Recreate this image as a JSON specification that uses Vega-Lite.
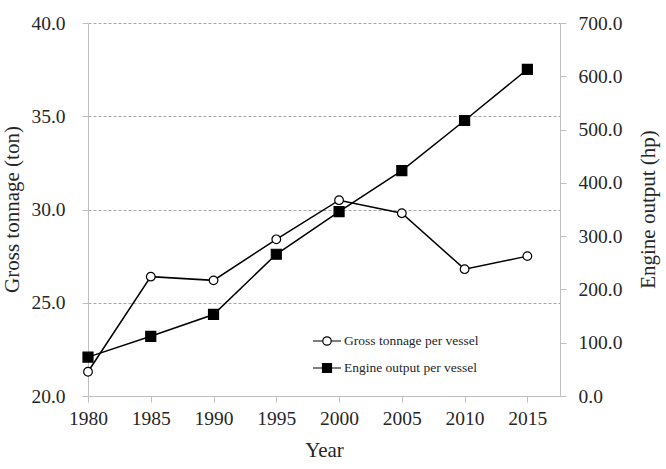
{
  "$schema": "https://vega.github.io/schema/vega-lite/v6.json",
  "autosize": "none",
  "width": 472,
  "height": 373,
  "padding": {"left": 88, "top": 23, "right": 106, "bottom": 73},
  "background": "white",
  "config": {
    "view": {"stroke": null},
    "font": "Liberation Serif",
    "axis": {
      "labelFont": "Liberation Serif",
      "titleFont": "Liberation Serif",
      "labelColor": "#262626",
      "titleColor": "#262626",
      "titleFontWeight": "normal",
      "domainColor": "#bfbfbf",
      "tickColor": "#bfbfbf",
      "tickSize": 6,
      "labelFontSize": 19.5,
      "titleFontSize": 21,
      "labelFlush": false
    },
    "legend": {
      "orient": "none",
      "legendX": 224,
      "legendY": 303,
      "symbolSize": 784,
      "rowPadding": 5,
      "labelOffset": 2,
      "labelFont": "Liberation Serif",
      "labelFontSize": 13.5,
      "labelColor": "#262626",
      "symbolStrokeColor": "black",
      "symbolStrokeWidth": 1.2,
      "symbolOpacity": 1
    }
  },
  "data": {
    "values": [
      {"year": 1980, "series": "Gross tonnage per vessel", "value": 21.3},
      {"year": 1985, "series": "Gross tonnage per vessel", "value": 26.4},
      {"year": 1990, "series": "Gross tonnage per vessel", "value": 26.2},
      {"year": 1995, "series": "Gross tonnage per vessel", "value": 28.4},
      {"year": 2000, "series": "Gross tonnage per vessel", "value": 30.5},
      {"year": 2005, "series": "Gross tonnage per vessel", "value": 29.8},
      {"year": 2010, "series": "Gross tonnage per vessel", "value": 26.8},
      {"year": 2015, "series": "Gross tonnage per vessel", "value": 27.5},
      {"year": 1980, "series": "Engine output per vessel", "value": 73},
      {"year": 1985, "series": "Engine output per vessel", "value": 112},
      {"year": 1990, "series": "Engine output per vessel", "value": 153},
      {"year": 1995, "series": "Engine output per vessel", "value": 266},
      {"year": 2000, "series": "Engine output per vessel", "value": 346},
      {"year": 2005, "series": "Engine output per vessel", "value": 423},
      {"year": 2010, "series": "Engine output per vessel", "value": 517},
      {"year": 2015, "series": "Engine output per vessel", "value": 613}
    ]
  },
  "encoding": {
    "x": {
      "field": "year",
      "type": "quantitative",
      "scale": {"domain": [1980, 2017.6], "nice": false, "zero": false},
      "axis": {
        "title": "Year",
        "values": [1980, 1985, 1990, 1995, 2000, 2005, 2010, 2015],
        "format": "d",
        "grid": false,
        "labelPadding": 7,
        "titlePadding": 12
      }
    }
  },
  "layer": [
    {
      "transform": [{"filter": "datum.series === 'Gross tonnage per vessel'"}],
      "encoding": {
        "y": {
          "field": "value",
          "type": "quantitative",
          "scale": {"domain": [20, 40], "nice": false, "zero": false},
          "axis": {
            "title": "Gross tonnage (ton)",
            "orient": "left",
            "values": [20, 25, 30, 35, 40],
            "format": ".1f",
            "grid": true,
            "gridColor": "#a6a6a6",
            "gridDash": [3, 2],
            "gridWidth": 1,
            "labelPadding": 17,
            "titleAngle": -90,
            "titleX": -76,
            "titleY": 186,
            "titleAlign": "center",
            "titleBaseline": "middle"
          }
        }
      },
      "layer": [
        {"mark": {"type": "line", "color": "black", "strokeWidth": 1.5}},
        {"mark": {"type": "point", "shape": "circle", "fill": "white", "stroke": "black", "strokeWidth": 1.2, "opacity": 1, "fillOpacity": 1, "size": 75}},
        {
          "mark": {"type": "point", "opacity": 0, "strokeWidth": 1.2},
          "encoding": {
            "shape": {"field": "series", "type": "nominal", "legend": {"title": null},
              "scale": {"domain": ["Gross tonnage per vessel", "Engine output per vessel"],
                "range": ["M-1,0H-0.3M0.3,0H1M0.3,0A0.3,0.3 0 1,1 -0.3,0A0.3,0.3 0 1,1 0.3,0Z", "M-1,0H1M-0.32,-0.32H0.32V0.32H-0.32Z"]}},
            "fill": {"field": "series", "type": "nominal", "legend": {"title": null},
              "scale": {"domain": ["Gross tonnage per vessel", "Engine output per vessel"], "range": ["white", "black"]}},
            "stroke": {"field": "series", "type": "nominal", "legend": {"title": null},
              "scale": {"domain": ["Gross tonnage per vessel", "Engine output per vessel"], "range": ["black", "black"]}}
          }
        }
      ]
    },
    {
      "transform": [{"filter": "datum.series === 'Engine output per vessel'"}],
      "encoding": {
        "y": {
          "field": "value",
          "type": "quantitative",
          "scale": {"domain": [0, 700], "nice": false},
          "axis": {
            "title": "Engine output (hp)",
            "orient": "right",
            "values": [0, 100, 200, 300, 400, 500, 600, 700],
            "format": ".1f",
            "grid": false,
            "labelPadding": 12,
            "titleAngle": -90,
            "titleX": 88,
            "titleY": 186,
            "titleAlign": "center",
            "titleBaseline": "middle"
          }
        }
      },
      "layer": [
        {"mark": {"type": "line", "color": "black", "strokeWidth": 1.5}},
        {"mark": {"type": "point", "shape": "square", "fill": "black", "stroke": "black", "strokeWidth": 1.2, "opacity": 1, "fillOpacity": 1, "size": 100}}
      ]
    }
  ],
  "resolve": {"scale": {"y": "independent"}}
}
